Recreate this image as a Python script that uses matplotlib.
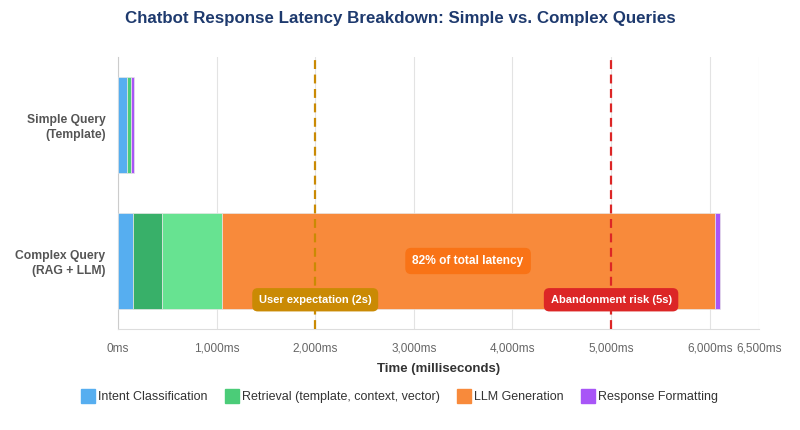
import numpy as np
import matplotlib.pyplot as plt
from matplotlib.lines import Line2D

plt.rcParams['font.family'] = ['Liberation Sans', 'DejaVu Sans']

# data (ms)
categories = ["Simple Query\n(Template)", "Complex Query\n(RAG + LLM)"]
intent = [90, 150]
retr_template = [45, 0]
retr_context = [0, 300]
retr_vector = [0, 600]
llm = [0, 5000]
formatting = [25, 50]

xticks = [0, 1000, 2000, 3000, 4000, 5000, 6000, 6500]
thresholds = [2000, 5000]
threshold_labels = ["User expectation (2s)", "Abandonment risk (5s)"]

legend_names = ["Intent Classification", "Retrieval (template, context, vector)",
                "LLM Generation", "Response Formatting"]

# colours
c_intent = '#56aef0'
c_retr = '#4bcc78'
c_ctx = '#38b069'
c_vec = '#67e391'
c_llm = '#f88a3b'
c_fmt = '#a855f7'
thr_colors = ['#ca8a04', '#dc2626']

fig = plt.figure(figsize=(8, 4.3), dpi=100)
ax = fig.add_axes([118/800, 1 - 329/430, 641/800, 272/430])

y = np.arange(len(categories))
segs = [(intent, c_intent), (retr_template, c_retr), (retr_context, c_ctx),
        (retr_vector, c_vec), (llm, c_llm), (formatting, c_fmt)]
left = np.zeros(len(categories))
for vals, col in segs:
    vals = np.array(vals, dtype=float)
    ax.barh(y, vals, left=left, height=0.7, color=col, edgecolor='#e6e6e6',
            linewidth=0.5, zorder=3)
    left = left + vals

ax.set_ylim(1.5, -0.5)
ax.set_xlim(0, 6500)
ax.set_yticks(y)
ax.set_yticklabels(categories, fontsize=8.7, fontweight='bold', color='#555555',
                   linespacing=1.25)
ax.set_xticks(xticks)
ax.set_xticklabels([f"{v:,}ms" for v in xticks], fontsize=8.5, color='#666666')
ax.tick_params(length=0, pad=10)
ax.tick_params(axis='y', pad=9)
ax.grid(axis='x', color='#e3e3e3', linewidth=0.8, zorder=0)

for s in ['top', 'right']:
    ax.spines[s].set_visible(False)
ax.spines['left'].set_color('#cccccc')
ax.spines['bottom'].set_color('#dddddd')

ax.set_xlabel("Time (milliseconds)", fontsize=9.5, fontweight='bold',
              color='#333333', labelpad=6)

# threshold lines + labels
for xv, lab, col in zip(thresholds, threshold_labels, thr_colors):
    ax.axvline(xv, color=col, linestyle=(0, (4, 2.5)), linewidth=1.6, zorder=4)
    ax.text(xv, 1.285, lab, ha='center', va='center', fontsize=8,
            fontweight='bold', color='white', zorder=6,
            bbox=dict(boxstyle='round,pad=0.6,rounding_size=0.5', fc=col, ec='none'))

# share of LLM generation
total = left[1]
llm_start = intent[1] + retr_template[1] + retr_context[1] + retr_vector[1]
pct = llm[1] / total * 100
ax.text(llm_start + llm[1] / 2, 1.0, f"{pct:.0f}% of total latency", ha='center',
        va='center', fontsize=8.6, fontweight='bold', color='white', zorder=6,
        bbox=dict(boxstyle='round,pad=0.6,rounding_size=0.5', fc='#f97316', ec='none'))

fig.suptitle("Chatbot Response Latency Breakdown: Simple vs. Complex Queries",
             x=0.5, y=1 - 19/430, va='center', fontsize=12.2, fontweight='bold',
             color='#1e3a6e')

handles = [Line2D([0], [0], marker='s', linestyle='none', markersize=9.5,
                  markerfacecolor=c, markeredgecolor=c)
           for c in [c_intent, c_retr, c_llm, c_fmt]]
fig.legend(handles, legend_names, loc='center', bbox_to_anchor=(0.5, 1 - 397/430),
           ncol=4, frameon=False, fontsize=9.0, labelcolor='#333333',
           handletextpad=0.35, columnspacing=1.4, handlelength=1.0)

fig.savefig('out.png', dpi=100)
